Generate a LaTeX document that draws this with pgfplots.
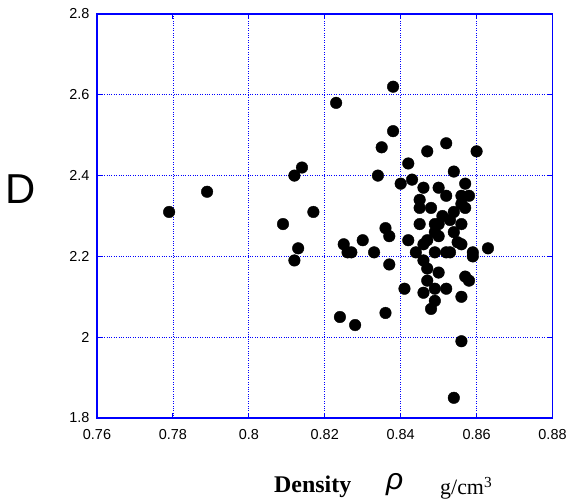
\documentclass[border=0pt]{standalone}
\usepackage{fontspec}
\setmainfont{Liberation Sans}
\newfontfamily\seriffont{Liberation Serif}
\usepackage{pgfplots}
\pgfplotsset{compat=1.18}
\begin{document}
\begin{tikzpicture}[x=1bp,y=1bp]
\path[use as bounding box] (0,0) rectangle (568,502);
\begin{axis}[
  at={(97bp,84bp)}, anchor=south west,
  width=455.5bp, height=404bp, scale only axis,
  xmin=0.76, xmax=0.88, ymin=1.8, ymax=2.8,
  xtick={0.76,0.78,0.80,0.82,0.84,0.86,0.88},
  xticklabels={0.76,0.78,0.8,0.82,0.84,0.86,0.88},
  ytick={1.8,2.0,2.2,2.4,2.6,2.8},
  yticklabels={1.8,2,2.2,2.4,2.6,2.8},
  /pgf/number format/assume math mode=true,
  grid=major,
  grid style={blue, dotted, line width=0.7pt},
  axis line style={blue, line width=1.3pt},
  tick style={blue, line width=1pt},
  major tick length=5bp,
  tick align=inside,
  xticklabel style={font=\fontsize{14.5}{16}\selectfont, yshift=-8bp},
  yticklabel style={font=\fontsize{14.5}{16}\selectfont, xshift=-4bp},
]
\addplot[only marks, mark=*, mark size=5.8bp, mark options={fill=black, draw=black}] table {
x y
0.779 2.31
0.789 2.36
0.809 2.28
0.812 2.19
0.812 2.40
0.813 2.22
0.814 2.42
0.817 2.31
0.823 2.58
0.824 2.05
0.825 2.23
0.826 2.21
0.827 2.21
0.828 2.03
0.830 2.24
0.833 2.21
0.834 2.40
0.835 2.47
0.836 2.27
0.836 2.06
0.837 2.25
0.837 2.18
0.838 2.62
0.838 2.51
0.840 2.38
0.841 2.12
0.842 2.43
0.842 2.24
0.843 2.39
0.844 2.21
0.845 2.34
0.845 2.32
0.845 2.28
0.846 2.37
0.846 2.23
0.846 2.19
0.846 2.11
0.847 2.46
0.847 2.24
0.847 2.17
0.847 2.14
0.848 2.32
0.848 2.07
0.849 2.28
0.849 2.26
0.849 2.21
0.849 2.12
0.849 2.09
0.850 2.37
0.850 2.28
0.850 2.25
0.850 2.16
0.851 2.30
0.852 2.48
0.852 2.35
0.852 2.21
0.852 2.12
0.853 2.29
0.853 2.21
0.854 2.41
0.854 2.31
0.854 2.26
0.854 1.85
0.855 2.235
0.856 2.35
0.856 2.33
0.856 2.28
0.856 2.23
0.856 2.10
0.856 1.99
0.857 2.38
0.857 2.32
0.857 2.15
0.858 2.35
0.858 2.14
0.859 2.21
0.859 2.20
0.860 2.46
0.863 2.22
};
\end{axis}
\node[anchor=center, font=\fontsize{42}{42}\selectfont, inner sep=0pt] at (21,313) {D};
\node[anchor=base west, inner sep=0pt, font=\seriffont\bfseries\fontsize{24}{24}\selectfont] at (274,9) {Density};
\node[anchor=base west, inner sep=0pt, font=\fontsize{30}{30}\selectfont] at (386,12) {\itshape ρ};
\node[anchor=base west, inner sep=0pt, font=\seriffont\fontsize{22}{22}\selectfont] at (440,7) {g/cm\textsuperscript{3}};
\end{tikzpicture}
\end{document}
